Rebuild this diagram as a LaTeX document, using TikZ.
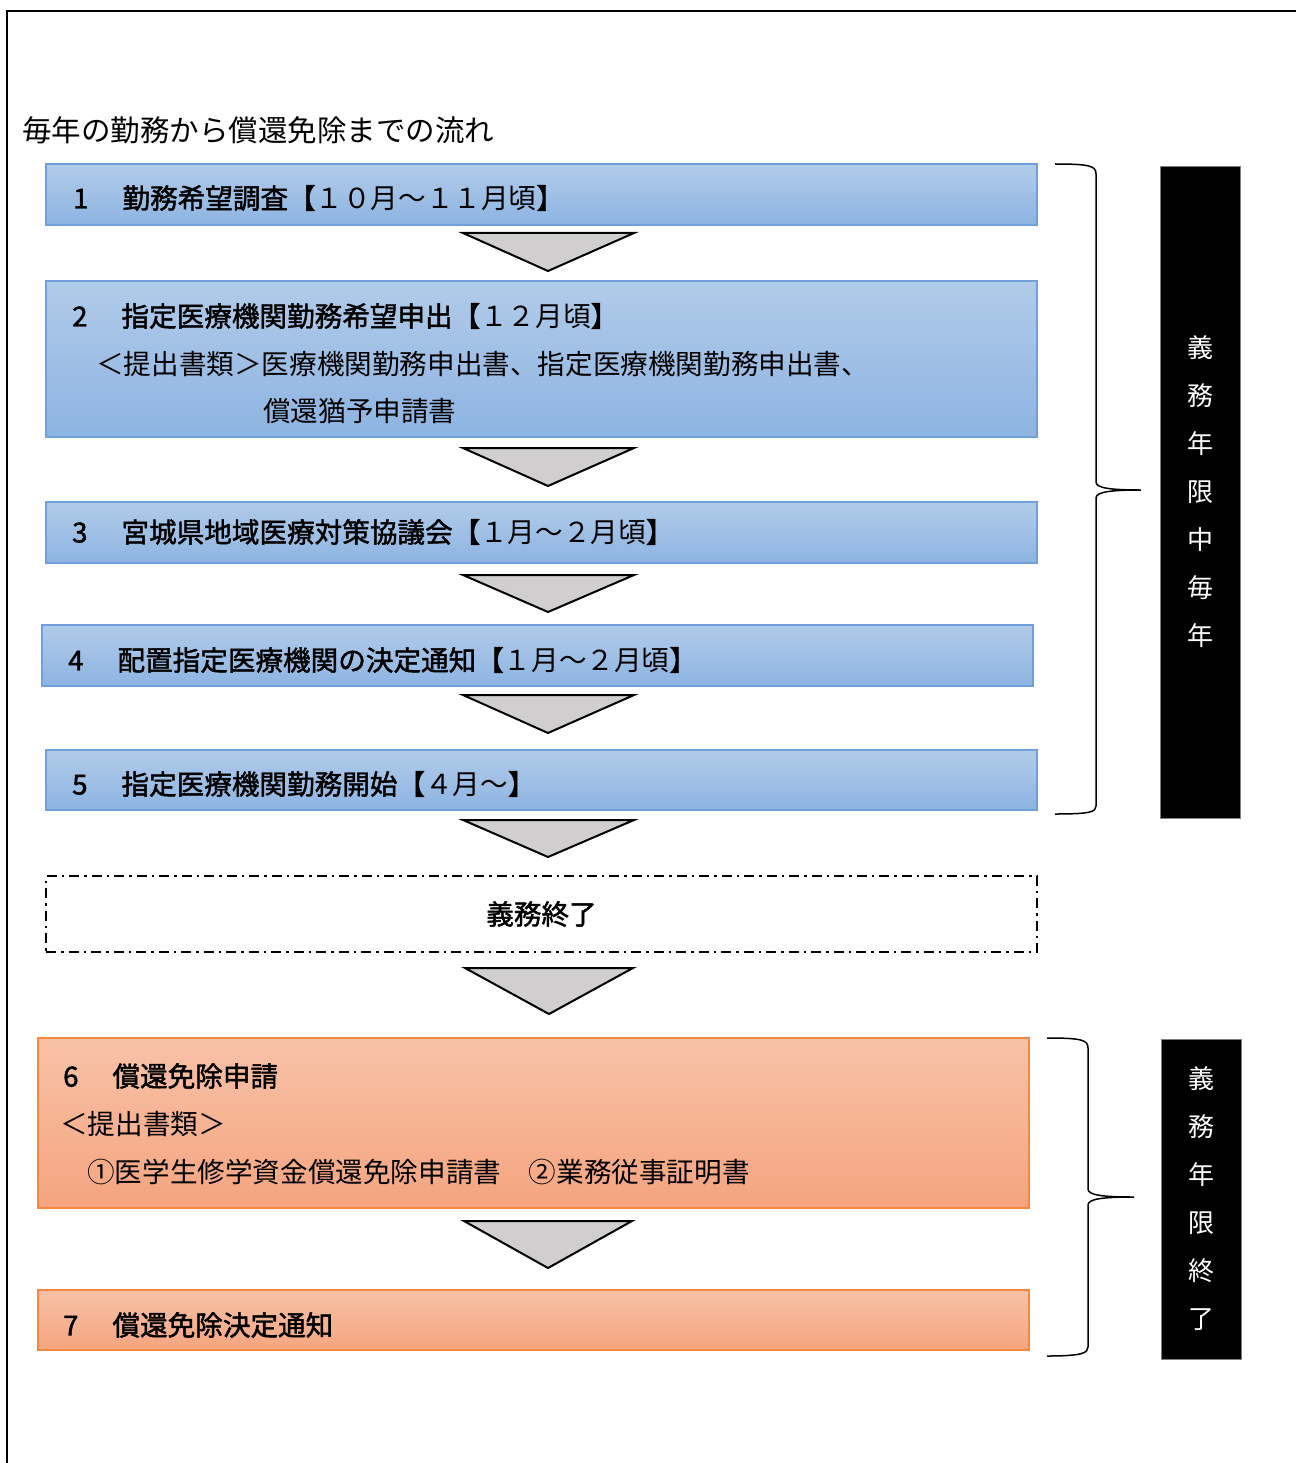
\documentclass[tikz,border=0pt]{standalone}
\usepackage{fontspec}
\newfontfamily\jp{Noto Sans CJK JP}
\newfontfamily\jpb[FakeBold=1.6]{Noto Sans CJK JP}
\usetikzlibrary{calc}
\definecolor{blueTop}{HTML}{B1CBE9}
\definecolor{blueBot}{HTML}{8DB4E2}
\definecolor{blueLine}{HTML}{6FA0DB}
\definecolor{orTop}{HTML}{F8C2A8}
\definecolor{orBot}{HTML}{F5A47F}
\definecolor{orLine}{HTML}{F5873E}
\definecolor{triFill}{HTML}{D0CECE}
\newcommand{\hd}[1]{{\jpb #1}}
\tikzset{
  bluebox/.style={draw=blueLine, line width=1.3pt, top color=blueTop, bottom color=blueBot, minimum width=991pt, inner sep=0pt},
  orbox/.style={draw=orLine, line width=1.3pt, top color=orTop, bottom color=orBot, minimum width=991pt, inner sep=0pt},
  endbox/.style={draw=black, line width=2pt, dash pattern=on 10pt off 5pt on 2.5pt off 5pt, minimum width=991pt, minimum height=76pt, inner sep=0pt, font=\jp\fontsize{27.6}{32}\selectfont},
  tri/.style={draw=black, line width=2pt, fill=triFill, line join=miter},
  txt/.style={anchor=west, inner sep=0pt, font=\jp\fontsize{27.6}{32}\selectfont},
  blk/.style={fill=black, draw=gray, line width=0.8pt, minimum width=80pt, text=white, align=center, inner sep=0pt, font=\jp\fontsize{26}{48}\selectfont},
  brace/.style={draw=black, line width=1.5pt},
}
\begin{document}
\begin{tikzpicture}[x=1pt,y=-1pt]
\useasboundingbox (0,0) rectangle (1296,1463);
% frame
\draw[line width=2pt] (7,1463) -- (7,11) -- (1296,11);
% title
\node[txt, font=\jp\fontsize{29.5}{34}\selectfont] (title) at (22,130) {毎年の勤務から償還免除までの流れ};
% boxes
\node[bluebox, minimum height=61pt] (b1) at (541.5,194.5) {};
\node[bluebox, minimum height=156pt] (b2) at (541.5,359) {};
\node[bluebox, minimum height=61pt] (b3) at (541.5,532.5) {};
\node[bluebox, minimum height=61pt] (b4) at (537.5,655.5) {};
\node[bluebox, minimum height=60pt] (b5) at (541.5,780) {};
\node[endbox] (end) at (541.5,914) {\hd{義務終了}};
\node[orbox, minimum height=170pt] (b6) at (533.5,1123) {};
\node[orbox, minimum height=60pt] (b7) at (533.5,1320) {};
% texts
\node[txt] (t1) at (73,198) {\hd{1\hspace{34pt}勤務希望調査【}１０月～１１月頃\hd{】}};
\node[txt] (t2a) at (72,316) {\hd{2\hspace{34pt}指定医療機関勤務希望申出【}１２月頃\hd{】}};
\node[txt] (t2b) at (96,364) {＜提出書類＞医療機関勤務申出書、指定医療機関勤務申出書、};
\node[txt] (t2c) at (263,411) {償還猶予申請書};
\node[txt] (t3) at (72,532) {\hd{3\hspace{34pt}宮城県地域医療対策協議会【}１月～２月頃\hd{】}};
\node[txt] (t4) at (68,660) {\hd{4\hspace{34pt}配置指定医療機関の決定通知【}１月～２月頃\hd{】}};
\node[txt] (t5) at (72,784) {\hd{5\hspace{34pt}指定医療機関勤務開始【}４月～\hd{】}};
\node[txt] (t6a) at (63,1076) {\hd{6\hspace{34pt}償還免除申請}};
\node[txt] (t6b) at (60,1124) {＜提出書類＞};
\node[txt] (t6c) at (87,1172) {①医学生修学資金償還免除申請書　②業務従事証明書};
\node[txt] (t7) at (63,1325) {\hd{7\hspace{34pt}償還免除決定通知}};
% triangles
\draw[tri] (463,233) -- (634,233) -- (548,271) -- cycle;
\draw[tri] (463,448) -- (634,448) -- (548,486) -- cycle;
\draw[tri] (463,575) -- (634,575) -- (548,612) -- cycle;
\draw[tri] (463,695) -- (634,695) -- (548,733) -- cycle;
\draw[tri] (463,820) -- (634,820) -- (548,857) -- cycle;
\draw[tri] (465,968) -- (633,968) -- (549,1014) -- cycle;
\draw[tri] (464,1221) -- (632,1221) -- (548,1268) -- cycle;
% braces
\draw[brace] (1055,164) .. controls (1090,164) and (1096,166) .. (1096,174) -- (1096,482) .. controls (1096,488) and (1110,490) .. (1141,490) .. controls (1110,490) and (1096,492) .. (1096,498) -- (1096,806) .. controls (1096,812) and (1090,814) .. (1055,814);
\draw[brace] (1047,1038) .. controls (1082,1038) and (1088,1040) .. (1088,1048) -- (1088,1189) .. controls (1088,1195) and (1102,1197) .. (1134,1197) .. controls (1102,1197) and (1088,1199) .. (1088,1205) -- (1088,1347) .. controls (1088,1353) and (1082,1356) .. (1047,1356);
% black labels
\node[blk, minimum height=652pt] (k1) at (1200.5,492) {義\\務\\年\\限\\中\\毎\\年};
\node[blk, minimum height=320pt] (k2) at (1201,1199) {義\\務\\年\\限\\終\\了};
\end{tikzpicture}
\end{document}
